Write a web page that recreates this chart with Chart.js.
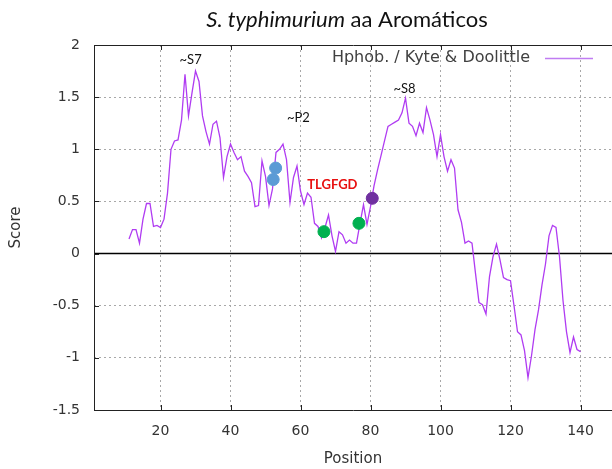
<!DOCTYPE html>
<html>
<head>
<meta charset="utf-8">
<script src="https://cdn.jsdelivr.net/npm/chart.js@4/dist/chart.umd.min.js"></script>
<style>
  html, body { margin: 0; padding: 0; background: #fff; }
  #wrap { width: 612px; height: 469px; }
</style>
</head>
<body>
<div id="wrap"><canvas id="chart" width="612" height="469"></canvas></div>
<script>
// ===== Data =====
const positions = [
  11, 12, 13, 14, 15, 16, 17, 18, 19, 20,
  21, 22, 23, 24, 25, 26, 27, 28, 29, 30,
  31, 32, 33, 34, 35, 36, 37, 38, 39, 40,
  41, 42, 43, 44, 45, 46, 47, 48, 49, 50,
  51, 52, 53, 54, 55, 56, 57, 58, 59, 60,
  61, 62, 63, 64, 65, 66, 67, 68, 69, 70,
  71, 72, 73, 74, 75, 76, 77, 78, 79, 80,
  81, 82, 83, 84, 85, 86, 87, 88, 89, 90,
  91, 92, 93, 94, 95, 96, 97, 98, 99, 100,
  101, 102, 103, 104, 105, 106, 107, 108, 109, 110,
  111, 112, 113, 114, 115, 116, 117, 118, 119, 120,
  121, 122, 123, 124, 125, 126, 127, 128, 129, 130,
  131, 132, 133, 134, 135, 136, 137, 138, 139, 140
];
const scores = [
  0.14, 0.23, 0.23, 0.10, 0.33, 0.48, 0.48, 0.26, 0.27, 0.25,
  0.33, 0.58, 1.00, 1.08, 1.09, 1.28, 1.72, 1.32, 1.54, 1.75,
  1.65, 1.32, 1.17, 1.05, 1.24, 1.27, 1.11, 0.73, 0.93, 1.05,
  0.97, 0.90, 0.93, 0.79, 0.74, 0.68, 0.45, 0.46, 0.89, 0.74,
  0.46, 0.62, 0.97, 1.00, 1.05, 0.90, 0.49, 0.73, 0.84, 0.60,
  0.47, 0.58, 0.54, 0.29, 0.26, 0.15, 0.25, 0.37, 0.17, 0.02,
  0.21, 0.18, 0.10, 0.13, 0.10, 0.10, 0.29, 0.47, 0.28, 0.45,
  0.65, 0.80, 0.94, 1.08, 1.22, 1.24, 1.26, 1.28, 1.35, 1.49,
  1.25, 1.22, 1.13, 1.25, 1.16, 1.40, 1.28, 1.14, 0.93, 1.14,
  0.93, 0.79, 0.90, 0.82, 0.42, 0.30, 0.10, 0.12, 0.10, -0.19,
  -0.47, -0.49, -0.58, -0.22, -0.03, 0.09, -0.06, -0.23, -0.25, -0.26,
  -0.50, -0.75, -0.78, -0.93, -1.19, -0.98, -0.73, -0.54, -0.30, -0.10,
  0.17, 0.27, 0.25, -0.03, -0.45, -0.75, -0.95, -0.80, -0.92, -0.94
];

// highlighted residues
const blueX = [52.2, 52.9];
const blueY = [0.71, 0.82];
const greenX = [66.7, 76.7];
const greenY = [0.21, 0.29];
const purpleX = [80.5];
const purpleY = [0.53];

const xTicks = [20, 40, 60, 80, 100, 120, 140];
const yTicks = [-1.5, -1, -0.5, 0, 0.5, 1, 1.5, 2];

const labelTexts = ['~S7', '~P2', '~S8', 'TLGFGD'];
const labelX = [28.6, 59.4, 89.7, 69.1];
const labelY = [1.86, 1.30, 1.58, 0.66];

const seriesName = 'Hphob. / Kyte & Doolittle';
const lineColor = '#b03cf2';

// ===== Helpers =====
const toPoints = (xs, ys) => xs.map((v, i) => ({x: v, y: ys[i]}));

const decorations = {
  id: 'decorations',
  afterDraw(chart) {
    const {ctx, chartArea: a, scales: {x, y}} = chart;
    ctx.save();

    // frame + inward ticks (gnuplot style)
    ctx.strokeStyle = '#222';
    ctx.lineWidth = 1;
    ctx.beginPath();
    ctx.moveTo(a.left + 0.5, a.top + 0.5);
    ctx.lineTo(a.right + 0.5, a.top + 0.5);
    ctx.moveTo(a.left + 0.5, a.top);
    ctx.lineTo(a.left + 0.5, a.bottom + 0.5);
    ctx.lineTo(a.right + 0.5, a.bottom + 0.5);
    xTicks.forEach(v => {
      const px = Math.round(x.getPixelForValue(v)) + 0.5;
      ctx.moveTo(px, a.bottom); ctx.lineTo(px, a.bottom - 5);
      ctx.moveTo(px, a.top); ctx.lineTo(px, a.top + 5);
    });
    yTicks.forEach(v => {
      const py = Math.round(y.getPixelForValue(v)) + 0.5;
      ctx.moveTo(a.left, py); ctx.lineTo(a.left + 5, py);
    });
    ctx.stroke();

    // title
    const tItalic = 'S. typhimurium';
    const tNormal = ' aa Aromáticos';
    ctx.fillStyle = '#111';
    ctx.textBaseline = 'middle';
    ctx.font = 'italic 22px Lato';
    const w1 = ctx.measureText(tItalic).width;
    ctx.font = '22px Lato';
    const w2 = ctx.measureText(tNormal).width;
    const tx = 347 - (w1 + w2) / 2;
    ctx.textAlign = 'left';
    ctx.font = 'italic 22px Lato';
    ctx.fillText(tItalic, tx, 20);
    ctx.font = '22px Lato';
    ctx.fillText(tNormal, tx + w1, 20);

    // annotations
    ctx.textAlign = 'center';
    labelTexts.forEach((t, i) => {
      const red = t === 'TLGFGD';
      ctx.fillStyle = red ? '#e81010' : '#111';
      ctx.font = red ? 'bold 13px Lato' : '13px Lato';
      ctx.fillText(t, x.getPixelForValue(labelX[i]), y.getPixelForValue(labelY[i]));
    });

    // legend
    ctx.fillStyle = '#404040';
    ctx.font = '16px "DejaVu Sans"';
    ctx.textAlign = 'right';
    ctx.fillText(seriesName, a.right - 82, a.top + 13);
    ctx.strokeStyle = '#c07cf2';
    ctx.lineWidth = 1.5;
    ctx.beginPath();
    ctx.moveTo(a.right - 67, a.top + 13.5);
    ctx.lineTo(a.right - 19, a.top + 13.5);
    ctx.stroke();

    ctx.restore();
  }
};

// ===== Chart =====
const ctx = document.getElementById('chart').getContext('2d');
new Chart(ctx, {
  type: 'scatter',
  data: {
    datasets: [
      {label: 'blue', data: toPoints(blueX, blueY), backgroundColor: '#5b9bd5', borderColor: '#5b9bd5', pointRadius: 6, pointHoverRadius: 6},
      {label: 'green', data: toPoints(greenX, greenY), backgroundColor: '#00b050', borderColor: '#00b050', pointRadius: 6, pointHoverRadius: 6},
      {label: 'purple', data: toPoints(purpleX, purpleY), backgroundColor: '#7030a0', borderColor: '#7030a0', pointRadius: 6, pointHoverRadius: 6},
      {label: seriesName, data: toPoints(positions, scores), showLine: true, borderColor: lineColor, borderWidth: 1.3, pointRadius: 0, tension: 0},
      {label: 'zero', data: [{x: 1, y: 0}, {x: 149, y: 0}], showLine: true, borderColor: '#000', borderWidth: 1.5, pointRadius: 0}
    ]
  },
  options: {
    responsive: false,
    animation: false,
    layout: {autoPadding: false, padding: {top: 45, left: 0, right: 0, bottom: 0}},
    plugins: {legend: {display: false}, tooltip: {enabled: false}, title: {display: false}},
    scales: {
      x: {
        type: 'linear', min: 1, max: 149,
        afterBuildTicks: s => { s.ticks = xTicks.map(v => ({value: v})); },
        afterFit: s => { s.height = 59; s.paddingLeft = 0; s.paddingRight = 0; },
        grid: {color: '#a8a8a8', lineWidth: 1, drawTicks: false},
        border: {display: false, dash: [2, 3]},
        ticks: {padding: 13, color: '#333', font: {family: 'DejaVu Sans', size: 14}, maxRotation: 0},
        title: {display: true, text: 'Position', color: '#333', font: {family: 'DejaVu Sans', size: 15}, padding: {top: 0, bottom: 1}}
      },
      y: {
        min: -1.5, max: 2,
        afterBuildTicks: s => { s.ticks = yTicks.map(v => ({value: v})); },
        afterFit: s => { s.width = 94; s.paddingTop = 0; s.paddingBottom = 0; },
        grid: {color: '#a8a8a8', lineWidth: 1, drawTicks: false},
        border: {display: false, dash: [2, 3]},
        ticks: {padding: 14, color: '#333', font: {family: 'DejaVu Sans', size: 14}, callback: v => String(v)},
        title: {display: true, text: 'Score', color: '#333', font: {family: 'DejaVu Sans', size: 15}, padding: {top: 7, bottom: 0}}
      }
    }
  },
  plugins: [decorations]
});
</script>
</body>
</html>
